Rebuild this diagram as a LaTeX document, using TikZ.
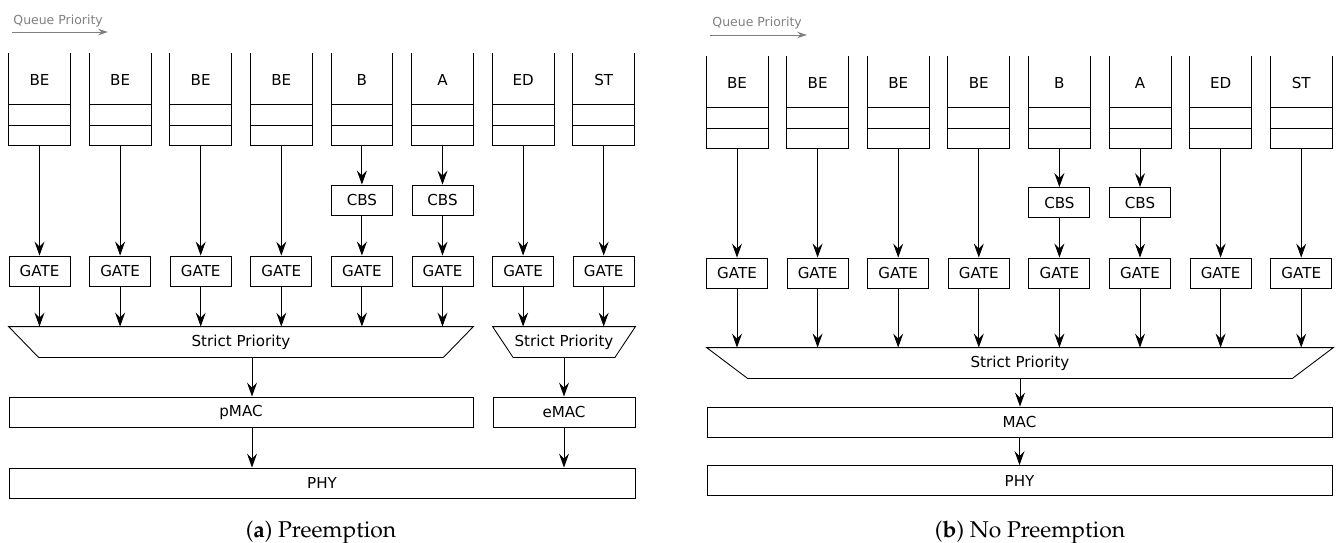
\documentclass[tikz,border=0pt]{standalone}
\usepackage[T1]{fontenc}
\usepackage{fontspec}
\setsansfont{DejaVu Sans}
\usetikzlibrary{arrows.meta,calc}

\newcommand\boxfont{\sffamily\fontsize{8.6}{10}\selectfont}
\newcommand\notefont{\sffamily\fontsize{7.1}{8}\selectfont}
\newcommand\capfont{\fontencoding{T1}\fontfamily{ppl}\fontseries{m}\fontshape{n}\fontsize{13}{15}\selectfont}

\tikzset{
  flow/.style={-{Stealth[length=2.8mm,width=2mm,inset=1mm]}},
  queue/.style={rectangle, anchor=north, minimum width=1.22cm, minimum height=1.84cm, inner sep=0pt},
  box/.style={draw, rectangle, minimum height=0.6cm, inner sep=0pt, font=\boxfont},
  gatebox/.style={box, minimum width=1.22cm},
  plain/.style={rectangle, minimum height=0.6cm, inner sep=0pt, font=\boxfont},
  note/.style={text=gray, font=\notefont, anchor=base west, inner sep=0pt},
  priority/.style={gray, -{Stealth[length=2mm,width=1.3mm,inset=0.7mm]}}
}

\begin{document}
\begin{tikzpicture}[x=0.02cm, y=-0.02cm, line width=0.5pt]
\useasboundingbox (0,0) rectangle (1336,542);

% (a) with preemption
\node[note] (QPA) at (13,24) {Queue Priority};
\coordinate (QPA0) at (12,32);
\coordinate (QPA1) at (108,32);
\draw[priority] (QPA0) -- (QPA1);

\foreach \i/\x/\t in {1/39.5/BE,2/120.1/BE,3/200.7/BE,4/281.3/BE,5/361.9/B,6/442.5/A,7/523.1/ED,8/603.7/ST} {
  \node[queue] (QA\i) at (\x,53) {};
  \node[font=\boxfont] (LA\i) at ([yshift=-0.54cm]QA\i.north) {\t};
  \draw (QA\i.north west) |- (QA\i.south east) -- (QA\i.north east);
  \draw ([yshift=0.4cm]QA\i.south west) -- ([yshift=0.4cm]QA\i.south east);
  \draw ([yshift=0.82cm]QA\i.south west) -- ([yshift=0.82cm]QA\i.south east);
  \node[gatebox] (GA\i) at (\x,271) {GATE};
}
\node[gatebox] (CBSA5) at (361.9,200) {CBS};
\node[gatebox] (CBSA6) at (442.5,200) {CBS};

\node[plain, minimum width=9.28cm] (SPA) at (241,342) {Strict Priority};
\draw (SPA.north west) -- (SPA.north east) -- ($(SPA.south east)+(-30,0)$) -- ($(SPA.south west)+(30,0)$) -- cycle;
\node[plain, minimum width=2.84cm] (SPE) at (564,342) {Strict Priority};
\draw (SPE.north west) -- (SPE.north east) -- ($(SPE.south east)+(-20.5,0)$) -- ($(SPE.south west)+(20.5,0)$) -- cycle;

\node[box, minimum width=9.28cm] (PMAC) at (241,412) {pMAC};
\node[box, minimum width=2.84cm] (EMAC) at (564,412) {eMAC};
\node[box, minimum width=12.52cm] (PHYA) at (322,483) {PHY};

\foreach \i in {1,2,3,4,7,8} \draw[flow] (QA\i) -- (GA\i);
\foreach \i in {5,6} {
  \draw[flow] (QA\i) -- (CBSA\i);
  \draw[flow] (CBSA\i) -- (GA\i);
}
\foreach \i in {1,...,6} \draw[flow] (GA\i) -- (GA\i |- SPA.north);
\foreach \i in {7,8} \draw[flow] (GA\i) -- (GA\i |- SPE.north);
\coordinate (SPAOUT) at ($(SPA.south)+(11,0)$);
\draw[flow] (SPAOUT) -- (SPAOUT |- PMAC.north);
\draw[flow] (SPAOUT |- PMAC.south) -- (SPAOUT |- PHYA.north);
\draw[flow] (SPE) -- (EMAC);
\draw[flow] (EMAC.south) -- (EMAC.south |- PHYA.north);

\node[anchor=base] (CAPA) at (321,537) {\capfont(\textbf{a}) Preemption};

% (b) without preemption
\node[note] (QPB) at (712,26) {Queue Priority};
\coordinate (QPB0) at (710,35);
\coordinate (QPB1) at (807,35);
\draw[priority] (QPB0) -- (QPB1);

\foreach \i/\x/\t in {1/737/BE,2/817.6/BE,3/898.2/BE,4/978.8/BE,5/1059.4/B,6/1140/A,7/1220.6/ED,8/1301.2/ST} {
  \node[queue] (QB\i) at (\x,56) {};
  \node[font=\boxfont] (LB\i) at ([yshift=-0.54cm]QB\i.north) {\t};
  \draw (QB\i.north west) |- (QB\i.south east) -- (QB\i.north east);
  \draw ([yshift=0.4cm]QB\i.south west) -- ([yshift=0.4cm]QB\i.south east);
  \draw ([yshift=0.82cm]QB\i.south west) -- ([yshift=0.82cm]QB\i.south east);
  \node[gatebox] (GB\i) at (\x,273) {GATE};
}
\node[gatebox] (CBSB5) at (1059.4,202.5) {CBS};
\node[gatebox] (CBSB6) at (1140,202.5) {CBS};

\node[plain, minimum width=12.52cm] (SPB) at (1020,363) {Strict Priority};
\draw (SPB.north west) -- (SPB.north east) -- ($(SPB.south east)+(-41,0)$) -- ($(SPB.south west)+(41,0)$) -- cycle;

\node[box, minimum width=12.5cm] (MAC) at (1019.5,422) {MAC};
\node[box, minimum width=12.5cm] (PHYB) at (1019.5,480.5) {PHY};

\foreach \i in {1,2,3,4,7,8} \draw[flow] (QB\i) -- (GB\i);
\foreach \i in {5,6} {
  \draw[flow] (QB\i) -- (CBSB\i);
  \draw[flow] (CBSB\i) -- (GB\i);
}
\foreach \i in {1,...,8} \draw[flow] (GB\i) -- (GB\i |- SPB.north);
\draw[flow] (SPB.south) -- (SPB.south |- MAC.north);
\draw[flow] (MAC.south) -- (MAC.south |- PHYB.north);

\node[anchor=base] (CAPB) at (1030,537) {\capfont(\textbf{b}) No Preemption};
\end{tikzpicture}
\end{document}
